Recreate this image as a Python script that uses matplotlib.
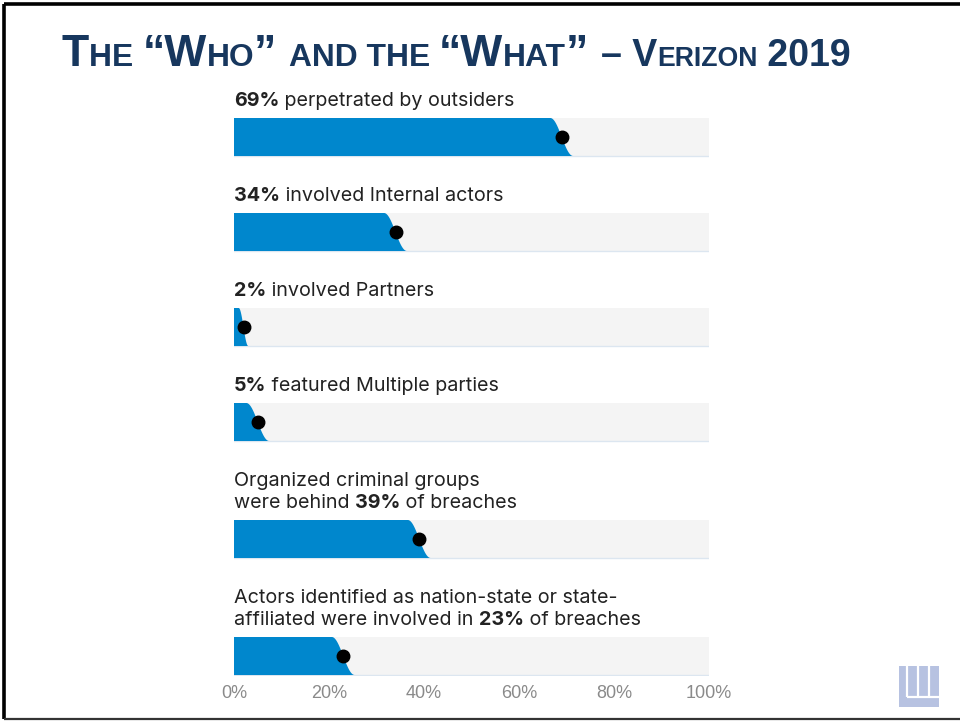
import numpy as np
import matplotlib
matplotlib.use("Agg")
from matplotlib import pyplot as plt

plt.rcParams['font.family'] = ['Inter', 'DejaVu Sans']

# data
values = [69, 34, 2, 5, 39, 23]
first_lines = ["", "", "", "",
               "Organized criminal groups",
               "Actors identified as nation-state or state-"]
prefixes = ["", "", "", "",
            "were behind ",
            "affiliated were involved in "]
suffixes = [" perpetrated by outsiders",
            " involved Internal actors",
            " involved Partners",
            " featured Multiple parties",
            " of breaches",
            " of breaches"]
ticks = [0, 20, 40, 60, 80, 100]
tick_labels = ["0%", "20%", "40%", "60%", "80%", "100%"]

blue = '#0087CD'
grey = '#F4F4F4'
navy = '#17375E'
text_col = '#222222'
fs = 14.2

W, H = 960, 721
fig = plt.figure(figsize=(W / 100, H / 100), dpi=100)
fig.patch.set_facecolor('white')
renderer = fig.canvas.get_renderer()

# overlay in pixel units for frame, title and logo
deco = fig.add_axes([0, 0, 1, 1])
deco.set_xlim(0, W)
deco.set_ylim(H, 0)
deco.axis('off')

deco.plot([4, W], [4, 4], color='black', lw=2.6, solid_capstyle='butt')
deco.plot([4, 4], [4, 719], color='black', lw=2.6, solid_capstyle='butt')
deco.plot([4, W], [719, 719], color='#333333', lw=1.6, solid_capstyle='butt')

# title in small caps: pieces of different size on one baseline
title_parts = [("T", 32.0), ("HE ", 22.9), ("\u201cW", 32.0), ("HO", 22.9),
               ("\u201d ", 32.0), ("AND THE ", 22.9), ("\u201cW", 32.0),
               ("HAT", 22.9), ("\u201d ", 32.0), ("\u2013 V", 27.0),
               ("ERIZON", 19.2), (" 2019", 27.0)]
x = 62
for txt, sz in title_parts:
    t = deco.text(x, 66.5, txt, fontsize=sz, family='Liberation Sans',
                  weight='bold', color=navy, va='baseline', ha='left')
    x += t.get_window_extent(renderer).width

# logo
logo_c = '#B7C2E1'
deco.add_patch(plt.Rectangle((899, 666), 40, 41, color=logo_c, lw=0))
for lx in [906.5, 917.5, 928.5]:
    deco.plot([lx, lx], [666, 697], color='white', lw=1.6, solid_capstyle='butt')
deco.plot([906.5, 939], [697, 697], color='white', lw=1.6, solid_capstyle='butt')

# bar panel: x in percent, y in pixel rows from the top
ax = fig.add_axes([234 / W, 45 / H, 475 / W, 590 / H])
ax.set_xlim(0, 100)
ax.set_ylim(676, 86)
ax.axis('off')

bar_h = 38
top = 118
centers = []
for i, v in enumerate(values):
    n_extra = 1 if first_lines[i] else 0
    if i > 0:
        top += 95 + 22 * n_extra
    bottom = top + bar_h
    centers.append(top + bar_h / 2)

    ax.fill_between([0, 100], top, bottom, color=grey, lw=0, zorder=1)
    ax.plot([0, 100], [bottom, bottom], color='#DCE6F0', lw=1, zorder=1)

    w = min(2.4, 0.5 * v)
    u = np.linspace(0, 1, 60)
    cx = v - w + 2 * w * u
    cy = top + bar_h * (1 - np.cos(np.pi * u)) / 2
    xs = np.concatenate([[0, v - w], cx, [0]])
    ys = np.concatenate([[top, top], cy, [bottom]])
    ax.fill(xs, ys, color=blue, lw=0, zorder=2)

    base = top - 12
    if first_lines[i]:
        ax.text(0, base - 22, first_lines[i], fontsize=fs, color=text_col,
                va='baseline', ha='left')
    # mixed weights on one baseline, measured piece by piece
    pieces = [(prefixes[i], 'normal'), (f"{v}%", 'bold'), (suffixes[i], 'normal')]
    px = ax.transData.transform((0, base))[0]
    for txt, wt in pieces:
        if not txt:
            continue
        xd = ax.transData.inverted().transform((px, 0))[0]
        t = ax.text(xd, base, txt, fontsize=fs, weight=wt, color=text_col,
                    va='baseline', ha='left')
        px += t.get_window_extent(renderer).width

ax.plot(values, centers, 'o', color='black', ms=9, zorder=3)

for tk, lab in zip(ticks, tick_labels):
    ax.text(tk, 694, lab, fontsize=13, family='Liberation Sans',
            color='#8A8A8A', ha='center', va='center')

fig.savefig('out.png', dpi=100)
